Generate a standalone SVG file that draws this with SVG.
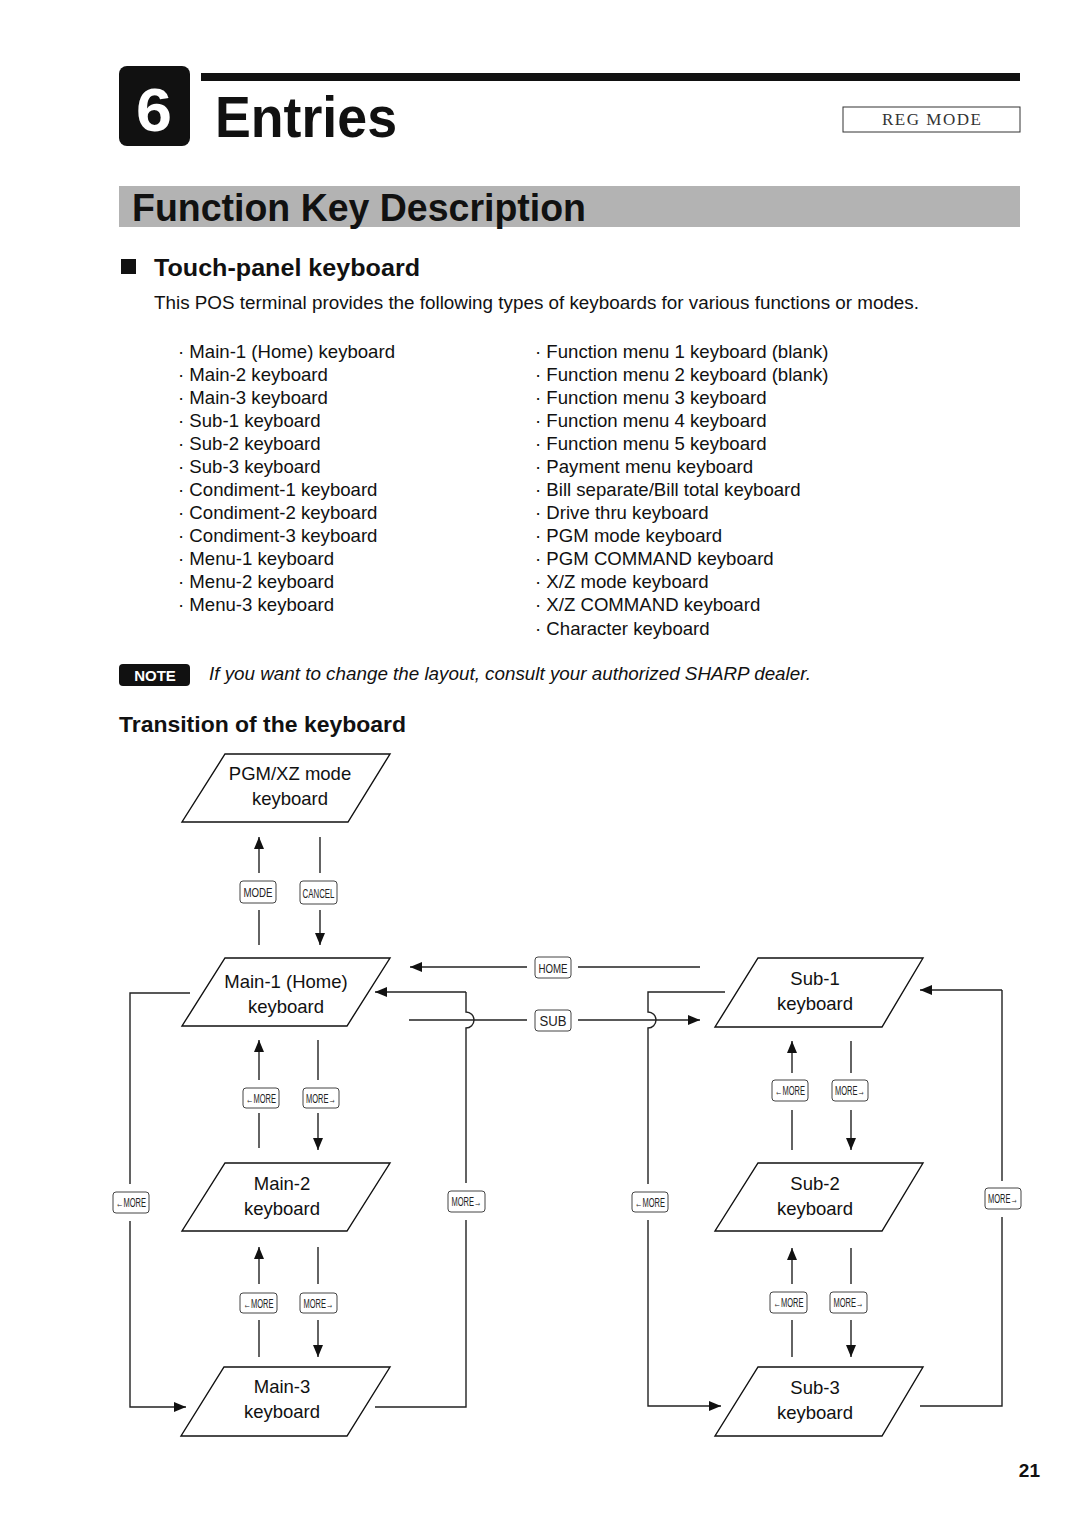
<svg xmlns="http://www.w3.org/2000/svg" width="1080" height="1526" viewBox="0 0 1080 1526">
<style>
.t{font-family:"Liberation Sans",Arial,sans-serif;fill:#111}
.b{font-weight:bold}
.n{font-family:"Liberation Sans Narrow","Liberation Sans",Arial,sans-serif;font-weight:bold}
.li{font-family:"Liberation Sans",Arial,sans-serif;font-size:18.6px;fill:#111}
.node{fill:#fff;stroke:#111;stroke-width:1.4}
.nt{font-family:"Liberation Sans",Arial,sans-serif;font-size:18.5px;fill:#111;text-anchor:middle}
.c{fill:none;stroke:#222;stroke-width:1.4}
.key rect{fill:#fff;stroke:#444;stroke-width:1}
.key text{font-family:"Liberation Sans Narrow","Liberation Sans",Arial,sans-serif;font-size:12px;fill:#222;text-anchor:middle}
.mono{font-family:"Liberation Serif","Times New Roman",serif;font-size:17px;fill:#333}
</style>
<defs>
<marker id="ah" markerUnits="userSpaceOnUse" markerWidth="12" markerHeight="10" viewBox="0 0 12 10" refX="12" refY="5" orient="auto">
<path d="M0,0 L12,5 L0,10 z" fill="#111"/>
</marker>
</defs>
<rect width="1080" height="1526" fill="#fff"/>

<!-- header -->
<rect x="119" y="66" width="71" height="80" rx="8" fill="#111"/>
<text x="154" y="131" class="n" font-size="62" fill="#fff" text-anchor="middle" textLength="36" lengthAdjust="spacingAndGlyphs">6</text>
<rect x="201" y="73" width="819" height="8" fill="#111"/>
<text x="215" y="137" class="n" font-size="58" fill="#111" textLength="182" lengthAdjust="spacingAndGlyphs">Entries</text>
<rect x="843" y="107" width="177" height="25" fill="#fff" stroke="#333" stroke-width="1"/>
<text x="882" y="125" class="mono" textLength="99" lengthAdjust="spacing">REG MODE</text>

<rect x="119" y="186" width="901" height="41" fill="#b3b3b3"/>
<text x="132" y="221" class="n" font-size="39" fill="#111" textLength="454" lengthAdjust="spacingAndGlyphs">Function Key Description</text>

<rect x="121" y="259" width="15" height="15" fill="#111"/>
<text x="154" y="276" class="t b" font-size="24.5" textLength="266" lengthAdjust="spacingAndGlyphs">Touch-panel keyboard</text>
<text x="154" y="309" class="t" font-size="17.5" textLength="765" lengthAdjust="spacingAndGlyphs">This POS terminal provides the following types of keyboards for various functions or modes.</text>

<g>
<text class="li" x="178" y="358">· Main-1 (Home) keyboard</text>
<text class="li" x="178" y="381">· Main-2 keyboard</text>
<text class="li" x="178" y="404">· Main-3 keyboard</text>
<text class="li" x="178" y="427">· Sub-1 keyboard</text>
<text class="li" x="178" y="450">· Sub-2 keyboard</text>
<text class="li" x="178" y="473">· Sub-3 keyboard</text>
<text class="li" x="178" y="496">· Condiment-1 keyboard</text>
<text class="li" x="178" y="519">· Condiment-2 keyboard</text>
<text class="li" x="178" y="542">· Condiment-3 keyboard</text>
<text class="li" x="178" y="565">· Menu-1 keyboard</text>
<text class="li" x="178" y="588">· Menu-2 keyboard</text>
<text class="li" x="178" y="611">· Menu-3 keyboard</text>
<text class="li" x="535" y="358">· Function menu 1 keyboard (blank)</text>
<text class="li" x="535" y="381">· Function menu 2 keyboard (blank)</text>
<text class="li" x="535" y="404">· Function menu 3 keyboard</text>
<text class="li" x="535" y="427">· Function menu 4 keyboard</text>
<text class="li" x="535" y="450">· Function menu 5 keyboard</text>
<text class="li" x="535" y="473">· Payment menu keyboard</text>
<text class="li" x="535" y="496">· Bill separate/Bill total keyboard</text>
<text class="li" x="535" y="519">· Drive thru keyboard</text>
<text class="li" x="535" y="542">· PGM mode keyboard</text>
<text class="li" x="535" y="565">· PGM COMMAND keyboard</text>
<text class="li" x="535" y="588">· X/Z mode keyboard</text>
<text class="li" x="535" y="611">· X/Z COMMAND keyboard</text>
<text class="li" x="535" y="635">· Character keyboard</text>
</g>

<rect x="119" y="664" width="71" height="22" rx="4" fill="#111"/>
<text x="155" y="681" class="t b" font-size="15" style="fill:#fff" text-anchor="middle">NOTE</text>
<text x="209" y="680" class="t" font-size="17.5" font-style="italic" textLength="602" lengthAdjust="spacingAndGlyphs">If you want to change the layout, consult your authorized SHARP dealer.</text>

<text x="119" y="732" class="t b" font-size="22.5" textLength="287" lengthAdjust="spacingAndGlyphs">Transition of the keyboard</text>

<!-- nodes -->
<g id="pgm">
<polygon class="node" points="225,754 390,754 348,822 182,822"/>
<text class="nt" x="290" y="780">PGM/XZ mode</text>
<text class="nt" x="290" y="805">keyboard</text>
</g>
<g id="main1">
<polygon class="node" points="225,958 390,958 347,1026 182,1026"/>
<text class="nt" x="286" y="988">Main-1 (Home)</text>
<text class="nt" x="286" y="1013">keyboard</text>
</g>
<g id="main2">
<polygon class="node" points="225,1163 390,1163 347,1231 182,1231"/>
<text class="nt" x="282" y="1190">Main-2</text>
<text class="nt" x="282" y="1215">keyboard</text>
</g>
<g id="main3">
<polygon class="node" points="224,1367 390,1367 347,1436 181,1436"/>
<text class="nt" x="282" y="1393">Main-3</text>
<text class="nt" x="282" y="1418">keyboard</text>
</g>
<g id="sub1">
<polygon class="node" points="758,958 923,958 882,1027 715,1027"/>
<text class="nt" x="815" y="985">Sub-1</text>
<text class="nt" x="815" y="1010">keyboard</text>
</g>
<g id="sub2">
<polygon class="node" points="758,1163 923,1163 882,1231 715,1231"/>
<text class="nt" x="815" y="1190">Sub-2</text>
<text class="nt" x="815" y="1215">keyboard</text>
</g>
<g id="sub3">
<polygon class="node" points="758,1367 923,1367 882,1436 715,1436"/>
<text class="nt" x="815" y="1394">Sub-3</text>
<text class="nt" x="815" y="1419">keyboard</text>
</g>

<!-- connectors -->
<g id="connectors" class="c">
<line x1="259" y1="873" x2="259" y2="837" marker-end="url(#ah)"/>
<line x1="259" y1="945" x2="259" y2="910"/>
<line x1="320" y1="837" x2="320" y2="873"/>
<line x1="320" y1="910" x2="320" y2="945" marker-end="url(#ah)"/>

<line x1="259" y1="1080" x2="259" y2="1040" marker-end="url(#ah)"/>
<line x1="259" y1="1148" x2="259" y2="1113"/>
<line x1="318" y1="1040" x2="318" y2="1080"/>
<line x1="318" y1="1113" x2="318" y2="1150" marker-end="url(#ah)"/>

<line x1="259" y1="1284" x2="259" y2="1247" marker-end="url(#ah)"/>
<line x1="259" y1="1357" x2="259" y2="1320"/>
<line x1="318" y1="1247" x2="318" y2="1284"/>
<line x1="318" y1="1320" x2="318" y2="1357" marker-end="url(#ah)"/>

<line x1="792" y1="1073" x2="792" y2="1041" marker-end="url(#ah)"/>
<line x1="792" y1="1150" x2="792" y2="1110"/>
<line x1="851" y1="1041" x2="851" y2="1073"/>
<line x1="851" y1="1110" x2="851" y2="1150" marker-end="url(#ah)"/>

<line x1="792" y1="1284" x2="792" y2="1248" marker-end="url(#ah)"/>
<line x1="792" y1="1357" x2="792" y2="1320"/>
<line x1="851" y1="1248" x2="851" y2="1284"/>
<line x1="851" y1="1320" x2="851" y2="1357" marker-end="url(#ah)"/>

<path d="M190,993 H130 V1184"/>
<path d="M130,1221 V1407 H186" marker-end="url(#ah)"/>

<path d="M375,1407 H466 V1220"/>
<path d="M466,992 V1012 A8,8 0 0 1 466,1028 V1183"/>
<line x1="466" y1="992" x2="375" y2="992" marker-end="url(#ah)"/>

<line x1="527" y1="967" x2="410" y2="967" marker-end="url(#ah)"/>
<line x1="700" y1="967" x2="578" y2="967"/>
<line x1="409" y1="1020" x2="527" y2="1020"/>
<line x1="578" y1="1020" x2="700" y2="1020" marker-end="url(#ah)"/>

<path d="M725,992 H648 V1012 A8,8 0 0 1 648,1028 V1184"/>
<path d="M648,1220 V1406 H721" marker-end="url(#ah)"/>

<path d="M920,1406 H1002 V1217"/>
<path d="M1002,1181 V990"/>
<line x1="1002" y1="990" x2="920" y2="990" marker-end="url(#ah)"/>
</g>

<!-- keys -->
<g id="keys">
<g class="key"><rect x="240" y="881" width="36" height="22" rx="3"/><text x="258" y="897" textLength="29" lengthAdjust="spacingAndGlyphs">MODE</text></g>
<g class="key"><rect x="300" y="881" width="37" height="23" rx="3"/><text x="318.5" y="897.5" textLength="32" lengthAdjust="spacingAndGlyphs">CANCEL</text></g>
<g class="key"><rect x="535" y="957" width="36" height="21" rx="3"/><text x="553" y="973" textLength="29" lengthAdjust="spacingAndGlyphs">HOME</text></g>
<g class="key"><rect x="535" y="1010" width="36" height="21" rx="3"/><text x="553" y="1026" style="font-family:'Liberation Sans',Arial,sans-serif;font-size:14px" textLength="27" lengthAdjust="spacingAndGlyphs">SUB</text></g>

<g class="key"><rect x="243" y="1088" width="36" height="20" rx="3"/><text x="261" y="1103" textLength="30" lengthAdjust="spacingAndGlyphs">←MORE</text></g>
<g class="key"><rect x="303" y="1088" width="36" height="20" rx="3"/><text x="321" y="1103" textLength="30" lengthAdjust="spacingAndGlyphs">MORE→</text></g>
<g class="key"><rect x="240" y="1293" width="37" height="20" rx="3"/><text x="258.5" y="1308" textLength="30" lengthAdjust="spacingAndGlyphs">←MORE</text></g>
<g class="key"><rect x="300" y="1293" width="37" height="20" rx="3"/><text x="318.5" y="1308" textLength="30" lengthAdjust="spacingAndGlyphs">MORE→</text></g>

<g class="key"><rect x="772" y="1080" width="36" height="21" rx="3"/><text x="790" y="1095" textLength="30" lengthAdjust="spacingAndGlyphs">←MORE</text></g>
<g class="key"><rect x="832" y="1080" width="36" height="21" rx="3"/><text x="850" y="1095" textLength="30" lengthAdjust="spacingAndGlyphs">MORE→</text></g>
<g class="key"><rect x="770" y="1292" width="37" height="21" rx="3"/><text x="788.5" y="1307" textLength="30" lengthAdjust="spacingAndGlyphs">←MORE</text></g>
<g class="key"><rect x="830" y="1292" width="37" height="21" rx="3"/><text x="848.5" y="1307" textLength="30" lengthAdjust="spacingAndGlyphs">MORE→</text></g>

<g class="key"><rect x="113" y="1192" width="36" height="21" rx="3"/><text x="131" y="1207" textLength="30" lengthAdjust="spacingAndGlyphs">←MORE</text></g>
<g class="key"><rect x="448" y="1191" width="37" height="21" rx="3"/><text x="466.5" y="1206" textLength="30" lengthAdjust="spacingAndGlyphs">MORE→</text></g>
<g class="key"><rect x="632" y="1192" width="36" height="20" rx="3"/><text x="650" y="1207" textLength="30" lengthAdjust="spacingAndGlyphs">←MORE</text></g>
<g class="key"><rect x="985" y="1188" width="36" height="21" rx="3"/><text x="1003" y="1203" textLength="30" lengthAdjust="spacingAndGlyphs">MORE→</text></g>
</g>

<text x="1040" y="1477" class="t b" font-size="19" text-anchor="end">21</text>
</svg>
